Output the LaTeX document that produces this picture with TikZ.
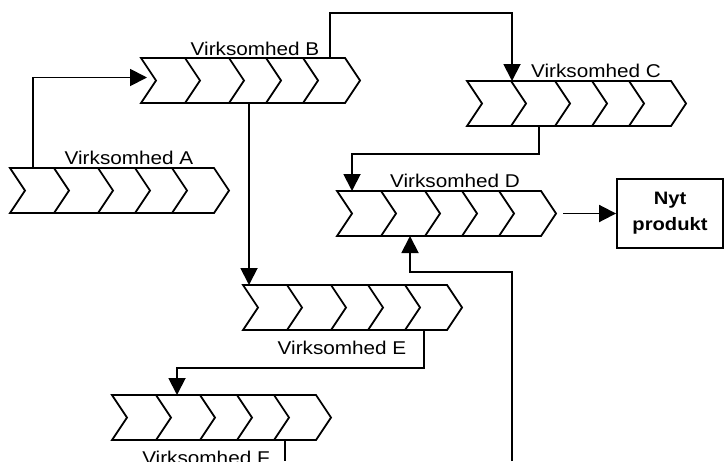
\documentclass[tikz,border=0pt]{standalone}
\usepackage{fontspec}
\setmainfont{Liberation Sans}
\newfontfamily\lblfont[FakeStretch=1.12]{Liberation Sans}
\usetikzlibrary{arrows.meta,calc}
\tikzset{
  chainbox/.style={rectangle, draw=none, minimum width=204pt, minimum height=45pt,
    inner sep=0pt, outer sep=0pt, anchor=north west},
  chevline/.style={line width=1.8pt, line join=miter},
  link/.style={line width=1.9pt, -{Triangle[length=17pt,width=17pt]}},
  plainlink/.style={line width=1.9pt},
  lbl/.style={font=\lblfont\fontsize{18.5}{21}\selectfont, inner sep=0pt, anchor=base},
  result/.style={draw, line width=1.9pt, minimum width=106pt, minimum height=69pt,
    inner sep=0pt, align=center,
    font=\lblfont\bfseries\fontsize{18}{26}\selectfont},
}
% a value chain of five chevrons drawn over the box of node #1
\newcommand\chevrons[1]{%
  \draw[chevline] (#1.north west) -- (#1.north east) -- ++(15pt,-22.5pt)
    -- (#1.south east) -- (#1.south west) -- ++(15pt,22.5pt) -- cycle;
  \foreach \o in {44,88,125,162}{%
    \draw[chevline] ([xshift=\o pt]#1.north west) -- ++(15pt,-22.5pt) -- ++(-15pt,-22.5pt);}%
}
\begin{document}
\begin{tikzpicture}[x=1pt,y=-1pt]
\useasboundingbox (0,0) rectangle (725,461);
\clip (0,0) rectangle (725,461);

% chains
\node[chainbox] (A) at (10,168) {};
\node[chainbox] (B) at (141,58) {};
\node[chainbox] (C) at (467,81) {};
\node[chainbox] (D) at (337,191) {};
\node[chainbox] (E) at (243,285) {};
\node[chainbox] (F) at (112,395) {};
\foreach \c in {A,B,C,D,E,F}{\chevrons{\c}}

% labels
\node[lbl] (lA) at (129,164.5) {Virksomhed A};
\node[lbl] (lB) at (255,55) {Virksomhed B};
\node[lbl] (lC) at (596,77.5) {Virksomhed C};
\node[lbl] (lD) at (455,187) {Virksomhed D};
\node[lbl] (lE) at (342,354.5) {Virksomhed E};
\node[lbl] (lF) at (206,464) {Virksomhed F};

% end product
\node[result] (N) at (670,213.5) {Nyt\\produkt};

% free ends at the lower border
\coordinate (bottomR) at (512,461);
\coordinate (bottomL) at (285,461);

% connectors
\draw[link] ([xshift=23pt]A.north west) |- ([xshift=6pt,yshift=3pt]B.west);
\draw[link] ([xshift=189pt]B.north west) -- ++(0pt,45pt) -| ([xshift=45pt]C.north west);
\draw[link] ([xshift=108pt]B.south west) -- ([xshift=108pt]B.south west |- E.north);
\draw[link] ([xshift=72pt]C.south west) -- ++(0pt,-28pt) -| ([xshift=15pt]D.north west);
\draw[link] ([xshift=22pt]D.east) -- (N.west);
\draw[link] (bottomR) -- ++(0pt,189pt) -| ([xshift=73pt]D.south west);
\draw[link] ([xshift=181pt]E.south west) -- ++(0pt,-38pt) -| ([xshift=65pt]F.north west);
\draw[plainlink] ([xshift=173pt]F.south west) -- (bottomL);
\end{tikzpicture}
\end{document}
